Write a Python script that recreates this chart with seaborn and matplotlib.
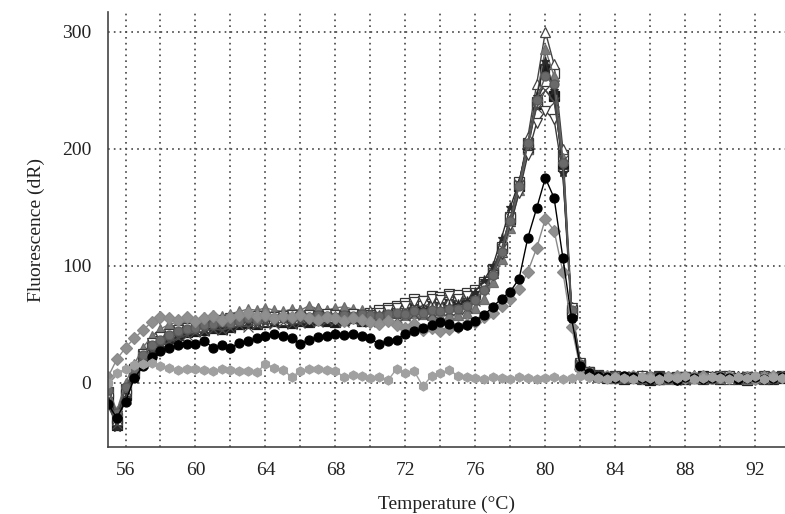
import numpy as np
import seaborn as sns
import matplotlib
matplotlib.use("Agg")
import matplotlib.pyplot as plt
from matplotlib.ticker import MultipleLocator, FuncFormatter

# melt curve, temperature sampled every 0.5 degC from 55 to 93.5
temps = np.arange(55.0, 94.0, 0.5)

# rows: 55-59.5 / 60-64.5 / 65-69.5 / 70-74.5 / 75-79.5 / 80-84.5 / 85-89.5 / 90-93.5
m1 = [-14, -36, -10, 8, 20, 28, 34, 38, 41, 43,
      44, 45, 47, 46, 48, 50, 51, 50, 52, 53,
      52, 51, 53, 52, 54, 53, 52, 54, 55, 53,
      56, 58, 60, 64, 66, 65, 68, 70, 68, 70,
      70, 72, 76, 84, 96, 115, 140, 168, 200, 238,
      268, 245, 185, 60, 15, 8, 6, 4, 5, 3,
      4, 5, 2, 3, 4, 5, 3, 4, 6, 4,
      3, 5, 4, 2, 4, 5, 3, 4]
m2 = [-8, -30, -5, 12, 24, 31, 36, 40, 43, 46,
      46, 48, 50, 51, 52, 53, 54, 52, 53, 55,
      54, 56, 55, 57, 55, 56, 58, 56, 57, 56,
      60, 62, 64, 66, 68, 72, 70, 74, 73, 76,
      75, 77, 79, 86, 97, 116, 142, 172, 205, 240,
      258, 265, 195, 62, 16, 9, 7, 5, 6, 4,
      5, 3, 4, 6, 4, 3, 5, 4, 3, 5,
      4, 6, 3, 5, 4, 3, 5, 6]
m3 = [-12, -32, -8, 10, 24, 33, 40, 45, 48, 51,
      52, 54, 55, 53, 56, 57, 59, 60, 58, 60,
      59, 61, 60, 62, 64, 61, 60, 62, 61, 60,
      61, 60, 62, 64, 63, 66, 65, 68, 67, 70,
      70, 72, 76, 83, 94, 112, 138, 170, 210, 255,
      300, 272, 200, 65, 18, 10, 7, 6, 5, 4,
      6, 4, 5, 3, 6, 5, 4, 7, 5, 4,
      5, 3, 6, 4, 5, 7, 4, 5]
m4 = [-4, -24, 0, 16, 30, 40, 46, 50, 52, 55,
      54, 56, 58, 57, 59, 61, 63, 62, 64, 62,
      61, 63, 62, 66, 63, 62, 64, 65, 63, 62,
      58, 59, 61, 60, 58, 60, 59, 58, 57, 58,
      58, 60, 64, 72, 86, 106, 132, 165, 200, 245,
      285, 262, 192, 58, 14, 8, 5, 6, 4, 6,
      5, 7, 4, 5, 3, 6, 5, 4, 6, 5,
      4, 6, 5, 3, 6, 4, 5, 6]
m5 = [-10, -28, -6, 12, 25, 34, 39, 42, 45, 47,
      48, 50, 52, 54, 55, 53, 56, 57, 55, 56,
      57, 58, 56, 58, 57, 59, 58, 57, 59, 58,
      58, 60, 62, 64, 66, 69, 70, 72, 71, 74,
      72, 74, 77, 83, 92, 110, 135, 162, 195, 222,
      232, 225, 178, 64, 17, 9, 6, 5, 4, 5,
      4, 6, 3, 5, 4, 2, 5, 4, 3, 5,
      6, 4, 3, 5, 4, 6, 3, 5]
m6 = [-16, -38, -12, 5, 18, 27, 33, 37, 40, 43,
      45, 47, 46, 48, 50, 51, 52, 51, 53, 54,
      55, 53, 54, 56, 55, 54, 57, 56, 55, 57,
      56, 58, 57, 59, 60, 62, 63, 64, 63, 66,
      67, 70, 78, 88, 100, 124, 150, 172, 205, 245,
      275, 250, 180, 55, 13, 7, 5, 4, 6, 4,
      3, 5, 4, 6, 5, 3, 4, 5, 4, 6,
      5, 4, 6, 3, 5, 4, 6, 4]
m7 = [-20, -35, -14, 4, 17, 26, 31, 35, 38, 41,
      43, 44, 46, 45, 47, 49, 48, 50, 51, 50,
      52, 50, 51, 53, 52, 54, 53, 52, 54, 53,
      52, 54, 56, 55, 57, 59, 58, 60, 62, 61,
      62, 64, 70, 80, 95, 115, 142, 170, 205, 235,
      250, 240, 190, 60, 15, 8, 6, 5, 4, 5,
      6, 5, 4, 3, 5, 4, 2, 4, 5, 3,
      4, 5, 3, 6, 4, 5, 3, 4]
m8 = [-6, -26, -4, 12, 24, 32, 37, 41, 44, 46,
      47, 49, 50, 52, 51, 53, 55, 54, 56, 55,
      56, 55, 57, 56, 58, 57, 56, 58, 57, 59,
      58, 57, 59, 60, 59, 61, 60, 62, 61, 63,
      63, 66, 71, 79, 92, 112, 138, 168, 205, 242,
      262, 255, 188, 62, 16, 9, 6, 5, 6, 4,
      5, 4, 6, 5, 3, 4, 6, 5, 4, 3,
      6, 5, 4, 3, 5, 6, 4, 5]
low_gray = [5, 20, 30, 38, 45, 52, 56, 55, 54, 56,
            53, 55, 57, 54, 56, 58, 60, 57, 58, 55,
            57, 56, 58, 55, 54, 56, 55, 53, 55, 54,
            52, 50, 53, 49, 47, 50, 45, 47, 44, 46,
            48, 50, 52, 56, 60, 66, 72, 80, 95, 115,
            140, 130, 95, 48, 12, 6, 5, 6, 4, 5,
            6, 4, 5, 3, 5, 6, 4, 5, 6, 4,
            5, 6, 4, 5, 3, 5, 6, 5]
low_black = [-18, -30, -16, 4, 14, 22, 27, 30, 32, 33,
             33, 36, 30, 32, 30, 34, 36, 38, 40, 42,
             40, 38, 33, 37, 39, 40, 42, 41, 42, 40,
             38, 33, 36, 37, 42, 44, 47, 49, 52, 50,
             48, 49, 53, 58, 65, 72, 78, 89, 124, 149,
             175, 158, 107, 55, 14, 8, 6, 5, 4, 6,
             5, 4, 3, 5, 4, 2, 5, 4, 3, 4,
             5, 4, 3, 4, 5, 3, 4, 5]
ntc = [0, 8, 12, 15, 16, 17, 14, 13, 11, 12,
       12, 11, 10, 12, 11, 10, 10, 9, 16, 13,
       11, 5, 10, 12, 12, 11, 10, 5, 7, 6,
       4, 5, 2, 12, 8, 10, -3, 6, 8, 11,
       6, 5, 4, 3, 5, 4, 3, 5, 4, 3,
       4, 5, 3, 4, 6, 5, 4, 3, 5, 4,
       3, 5, 4, 3, 5, 4, 6, 3, 4, 5,
       4, 3, 5, 4, 6, 3, 5, 4]

# (values, line colour, marker, face colour)
curves = [
    (m1, "#1a1a1a", "s", "#1a1a1a"),
    (m2, "#333333", "s", "white"),
    (m3, "#444444", "^", "white"),
    (m4, "#6e6e6e", "^", "#7a7a7a"),
    (m5, "#3a3a3a", "v", "white"),
    (m6, "#2a2a2a", "*", "#2a2a2a"),
    (m7, "#4a4a4a", "x", "#4a4a4a"),
    (m8, "#5a5a5a", "o", "#6a6a6a"),
    (low_gray, "#8a8a8a", "D", "#8f8f8f"),
    (low_black, "#000000", "o", "#000000"),
    (ntc, "#a0a0a0", "h", "#a0a0a0"),
]

sns.set_style("white")
plt.rcParams["font.family"] = ["Liberation Serif", "DejaVu Serif"]

fig = plt.figure(figsize=(7.85, 5.14), dpi=100)
ax = fig.add_axes([0.1376, 0.130, 0.8624, 0.847])

for vals, col, mk, fc in curves:
    sns.lineplot(x=temps, y=vals, ax=ax, color=col, marker=mk,
                 markersize=6.5, markerfacecolor=fc, markeredgecolor=col,
                 markeredgewidth=0.9, linewidth=1.0)

ax.set_xlim(55.0, 93.7)
ax.set_ylim(-55, 317)

ax.xaxis.set_major_locator(MultipleLocator(2))
ax.xaxis.set_minor_locator(MultipleLocator(1))
ax.xaxis.set_major_formatter(FuncFormatter(lambda v, p: f"{int(round(v))}" if int(round(v)) % 4 == 0 else ""))
ax.yaxis.set_major_locator(MultipleLocator(100))
ax.yaxis.set_minor_locator(MultipleLocator(50))

ax.grid(True, which="major", color="#444444", linestyle=(0, (1, 2.5)), linewidth=1.2)
ax.set_axisbelow(True)

for side in ["top", "right"]:
    ax.spines[side].set_visible(False)
for side in ["left", "bottom"]:
    ax.spines[side].set_color("#444444")
    ax.spines[side].set_linewidth(1.2)

ax.tick_params(which="major", direction="inout", length=6, width=1, color="#444444",
               labelsize=14, labelcolor="#222222")
ax.tick_params(which="minor", direction="inout", length=4, width=1, color="#444444")
ax.tick_params(axis="x", pad=8)
ax.tick_params(axis="y", pad=9)

ax.set_xlabel("Temperature (°C)", fontsize=14, color="#222222", labelpad=12)
ax.set_ylabel("Fluorescence (dR)", fontsize=14, color="#222222", labelpad=12)

fig.savefig("out.png", dpi=100)
